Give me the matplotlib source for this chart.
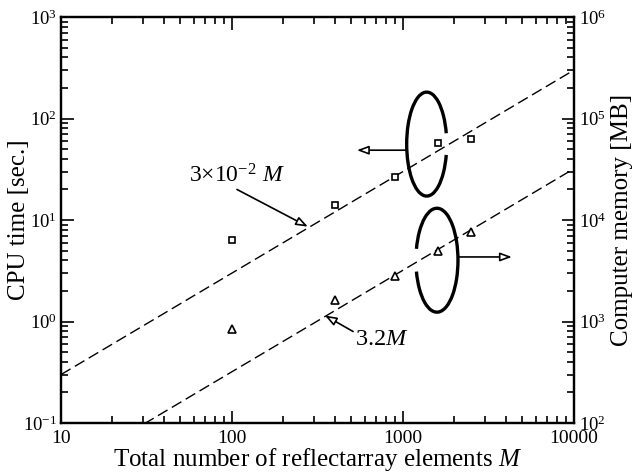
import matplotlib
matplotlib.use("Agg")
import matplotlib.pyplot as plt
from matplotlib.patches import Arc
import numpy as np

plt.rcParams['font.family'] = ['Liberation Serif', 'DejaVu Serif']
plt.rcParams['mathtext.fontset'] = 'custom'
plt.rcParams['mathtext.rm'] = 'Liberation Serif'
plt.rcParams['mathtext.it'] = 'Liberation Serif:italic'
plt.rcParams['mathtext.default'] = 'regular'

# data
M = [100, 400, 900, 1600, 2500]
cpu_time = [6.4, 14.0, 26.4, 57.6, 63.0]          # sec
memory = [840, 1620, 2820, 4970, 7700]            # MB
fit_M = [10, 10000]
cpu_coef = 3e-2
mem_coef = 3.2

fig = plt.figure(figsize=(6.34, 4.73), dpi=100)
ax = fig.add_axes([0.0962, 0.1057, 0.809, 0.8583])
ax2 = ax.twinx()

fit_M = np.array(fit_M, dtype=float)
dash = (0, (8, 3.6))
ax.plot(fit_M, cpu_coef * fit_M, ls=dash, color='black', lw=1.0)
ax.plot(M, cpu_time, ls='none', marker='s', ms=5, mfc='white', mec='black', mew=1.2)
ax2.plot(fit_M, mem_coef * fit_M, ls=dash, color='black', lw=1.0)
ax2.plot(M, memory, ls='none', marker='^', ms=5.5, mfc='white', mec='black', mew=1.2)

for a in (ax, ax2):
    a.set_xscale('log')
    a.set_yscale('log')
ax.set_xlim(10, 10000)
ax.set_ylim(0.1, 1000)
ax2.set_ylim(100, 1e6)

ax.tick_params(which='both', direction='in', top=True, right=False, labelsize=13.5, width=1.2)
ax.tick_params(which='major', length=9, pad=3)
ax.tick_params(which='minor', length=5)
ax.tick_params(axis='x', pad=5, labelsize=14)
ax2.tick_params(which='both', direction='in', labelsize=13.5, width=1.2)
ax2.tick_params(which='major', length=9, pad=4)
ax2.tick_params(which='minor', length=5)
ax.xaxis.set_major_formatter(matplotlib.ticker.FuncFormatter(lambda v, p: '%d' % round(v)))

for a in (ax, ax2):
    for s in a.spines.values():
        s.set_linewidth(1.6)

ax.set_xlabel('Total number of reflectarray elements $\\mathit{M}$', fontsize=18)
ax.set_ylabel('CPU time [sec.]', fontsize=18)
ax2.set_ylabel('Computer memory [MB]', fontsize=18)
ax.xaxis.set_label_coords(0.5, -0.057)
ax.yaxis.set_label_coords(-0.060, 0.5)
ax2.yaxis.set_label_coords(1.072, 0.5)

# annotations
arrow_kw = dict(arrowstyle='-|>,head_length=0.7,head_width=0.26', fc='white', ec='black', lw=1.2,
                shrinkA=0, shrinkB=0)
ax2.annotate('', xy=(278, 8.6e3), xytext=(107, 20e3), arrowprops=arrow_kw)
ax2.text(107, 27.4e3, '3×10$^{-2}$ $\\mathit{M}$', fontsize=17, ha='center', va='center')
ax2.annotate('', xy=(350, 1146), xytext=(511, 797), arrowprops=arrow_kw)
ax2.text(753, 665, '3.2$\\mathit{M}$', fontsize=17.5, ha='center', va='center')

# bracket arcs and arrows (axes fraction)
ax2.add_patch(Arc((0.713, 0.687), 0.078, 0.256, theta1=35, theta2=325,
                  transform=ax2.transAxes, lw=2.4, color='black'))
ax2.annotate('', xy=(0.577, 0.672), xytext=(0.674, 0.672), xycoords='axes fraction',
             textcoords='axes fraction', arrowprops=arrow_kw)
ax2.add_patch(Arc((0.733, 0.401), 0.082, 0.256, theta1=-145, theta2=145,
                  transform=ax2.transAxes, lw=2.4, color='black'))
ax2.annotate('', xy=(0.879, 0.409), xytext=(0.774, 0.409), xycoords='axes fraction',
             textcoords='axes fraction', arrowprops=arrow_kw)

fig.savefig('out.png', dpi=100)
